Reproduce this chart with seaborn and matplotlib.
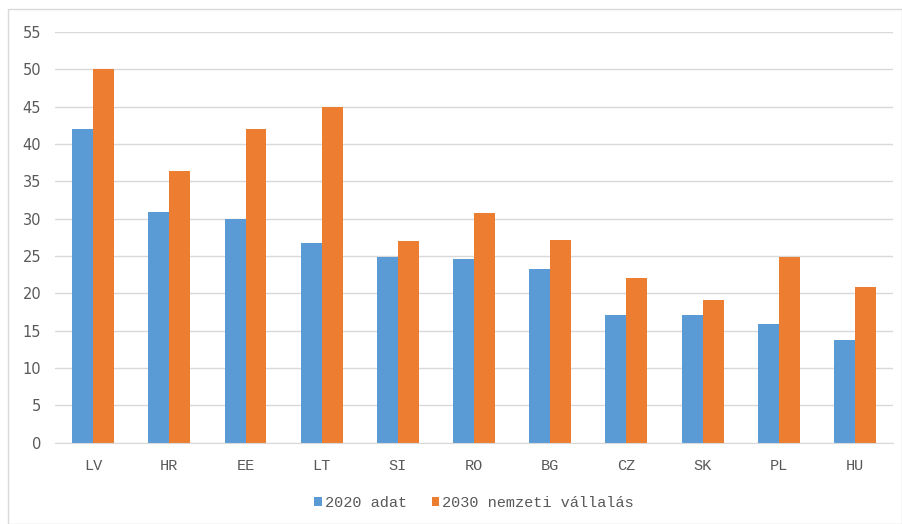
import matplotlib
matplotlib.use("Agg")
import matplotlib.pyplot as plt
import pandas as pd
import seaborn as sns
from matplotlib.patches import Rectangle

# Data
countries = ['LV', 'HR', 'EE', 'LT', 'SI', 'RO', 'BG', 'CZ', 'SK', 'PL', 'HU']
adat_2020 = [42, 30.9, 30, 26.7, 24.9, 24.6, 23.3, 17.1, 17.1, 15.9, 13.8]
vallalas_2030 = [50, 36.4, 42, 45, 27, 30.7, 27.1, 22, 19.1, 24.9, 20.9]
series_names = ['2020 adat', '2030 nemzeti vállalás']

df = pd.DataFrame({
    'country': countries * 2,
    'value': adat_2020 + vallalas_2030,
    'series': [series_names[0]] * len(countries) + [series_names[1]] * len(countries),
})

sns.set_style('white')
plt.rcParams['font.family'] = ['DejaVu Sans']

fig = plt.figure(figsize=(9.03, 5.24), dpi=100)
ax = fig.add_axes([0.061, 0.155, 0.928, 0.784])

sns.barplot(data=df, x='country', y='value', hue='series', order=countries,
            hue_order=series_names, palette=['#5B9BD5', '#ED7D31'],
            width=0.55, gap=0, saturation=1, linewidth=0, edgecolor='none',
            ax=ax, legend=True)

ax.set_ylim(0, 55)
ax.set_xlim(-0.5, len(countries) - 0.5)
ax.set_yticks(range(0, 56, 5))
ax.yaxis.grid(True, color='#D9D9D9', linewidth=1)
ax.set_axisbelow(True)
ax.set_xlabel('')
ax.set_ylabel('')
for s in ['top', 'right', 'left']:
    ax.spines[s].set_visible(False)
ax.spines['bottom'].set_color('#D9D9D9')
ax.tick_params(axis='both', length=0, colors='#595959')
ax.tick_params(axis='y', labelsize=10.5, pad=10)
ax.tick_params(axis='x', labelsize=11, pad=12)
for lbl in ax.get_xticklabels():
    lbl.set_family('Liberation Mono')

handles, labels = ax.get_legend_handles_labels()
ax.legend(handles, labels, loc='center', bbox_to_anchor=(0.5, -0.146),
          ncol=2, frameon=False, handlelength=0.5, handleheight=0.5,
          handletextpad=0.2, columnspacing=1.6, labelcolor='#595959',
          prop={'family': 'Liberation Mono', 'size': 11})

# light outer chart border
fig.patches.append(Rectangle((0.009, 0.0), 0.99, 0.983, transform=fig.transFigure,
                             fill=False, edgecolor='#D9D9D9', linewidth=1))

fig.savefig('out.png', dpi=100)
